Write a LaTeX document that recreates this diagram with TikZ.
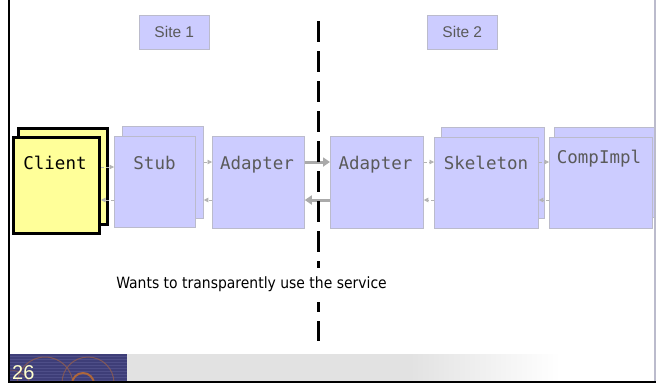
\documentclass[tikz,border=0pt]{standalone}
\usepackage{fontspec}
\usetikzlibrary{arrows.meta}
\setmainfont{Liberation Sans}
\newfontfamily\monof{DejaVu Sans Mono}
\newfontfamily\tahomaf[FakeStretch=0.9]{DejaVu Sans}
\definecolor{boxfill}{HTML}{CCCCFF}
\definecolor{boxline}{HTML}{BBBBCC}
\definecolor{clientfill}{HTML}{FFFF99}
\definecolor{lblgray}{HTML}{5A5A5A}
\definecolor{arrgray}{HTML}{AAAAAA}
\definecolor{smallarr}{HTML}{B4B4B4}
\definecolor{navy}{HTML}{3E3E78}
\definecolor{navystripe}{HTML}{4E4E88}
\definecolor{ringcol}{HTML}{9A6048}
\definecolor{footgray}{HTML}{E2E2E2}
\definecolor{numcol}{HTML}{FFFFCC}
\tikzset{
  bluebox/.style={draw=boxline, fill=boxfill, line width=0.8bp, inner sep=0pt, anchor=north west},
  clientbox/.style={draw=black, fill=clientfill, line width=3bp, inner sep=0pt, anchor=north west},
  sitebox/.style={draw=boxline, fill=boxfill, line width=0.6bp, inner sep=0pt, anchor=north west,
    minimum width=70bp, minimum height=34bp, text=lblgray, font=\fontsize{15.5bp}{18bp}\selectfont},
  lbl/.style={anchor=base, inner sep=0pt, text=lblgray, font=\monof\fontsize{17.5bp}{20bp}\selectfont},
  smallarrow/.style={draw=smallarr, line width=0.8bp, dash pattern=on 3bp off 2bp,
    -{Triangle[length=4.5bp,width=4.5bp]}},
  bigarrow/.style={draw=arrgray, line width=3bp, -{Triangle[length=7bp,width=9bp]}},
  divider/.style={draw=black, line width=3bp, dash pattern=on 21bp off 9bp},
}
\begin{document}
\begin{tikzpicture}[x=1bp, y=-1bp]
\useasboundingbox (0,0) rectangle (656,383);
\fill[white] (0,0) rectangle (656,383);

% site labels
\node[sitebox] (site1) at (139,15) {Site 1};
\node[sitebox] (site2) at (427,15) {Site 2};

% back boxes
\node[clientbox, minimum width=89bp, minimum height=96bp] (clientB) at (17,127) {};
\node[bluebox, minimum width=81bp, minimum height=92bp] (stubB) at (122,126) {};
\node[bluebox, minimum width=103bp, minimum height=91bp] (skelB) at (441,127) {};
\node[bluebox, minimum width=101bp, minimum height=90bp] (compB) at (554,127) {};

% front boxes
\node[clientbox, minimum width=86bp, minimum height=96bp] (clientF) at (12,136) {};
\node[bluebox, minimum width=81bp, minimum height=91bp] (stubF) at (114,136) {};
\node[bluebox, minimum width=92bp, minimum height=92bp] (adapt1) at (212,136) {};
\node[bluebox, minimum width=93bp, minimum height=92bp] (adapt2) at (330,136) {};
\node[bluebox, minimum width=104bp, minimum height=91bp] (skelF) at (434,137) {};
\node[bluebox, minimum width=103bp, minimum height=91bp] (compF) at (549,137) {};

% labels
\node[lbl, text=black] (tclient) at (55,169) {Client};
\node[lbl] (tstub) at (154.5,169) {Stub};
\node[lbl] (tad1) at (257,169) {Adapter};
\node[lbl] (tad2) at (375.5,169) {Adapter};
\node[lbl] (tskel) at (486,169) {Skeleton};
\node[lbl] (tcomp) at (599,163) {CompImpl};

% arrow rows
\coordinate (ya) at (0,167);
\coordinate (yt) at (0,162);
\coordinate (yb) at (0,200);

\draw[smallarrow] (clientF.east |- ya) -- (stubF.west |- ya);
\draw[smallarrow] (stubB.east |- yt) -- (adapt1.west |- yt);
\draw[smallarrow] (stubF.west |- yb) -- (clientF.east |- yb);
\draw[smallarrow] (adapt1.west |- yb) -- (stubB.east |- yb);
\draw[smallarrow] (adapt2.east |- yt) -- (skelF.west |- yt);
\draw[smallarrow] (skelF.west |- yb) -- (adapt2.east |- yb);
\draw[smallarrow] (skelF.east |- yt) -- (compF.west |- yt);
\draw[smallarrow] (compF.west |- yb) -- (skelF.east |- yb);

\draw[bigarrow] (adapt1.east |- yt) -- (adapt2.west |- yt);
\draw[bigarrow] (adapt2.west |- yb) -- (adapt1.east |- yb);

% dividing line
\coordinate (dtop) at (318,21);
\coordinate (dbot) at (318,341);
\draw[divider] (dtop) -- (dbot);

% caption
\node[anchor=base, fill=white, inner xsep=2bp, inner ysep=0pt, text height=20bp, text depth=14bp,
  font=\tahomaf\fontsize{15.5bp}{18bp}\selectfont] (caption) at (251.5,288)
  {Wants to transparently use the service};

% footer
\fill[footgray] (127,354) rectangle (410,381);
\shade[left color=footgray, right color=white] (410,354) rectangle (560,381);
\fill[navy] (9,354) rectangle (127,381);
\begin{scope}
  \clip (9,354) rectangle (127,381);
  \foreach \yy in {356,359,...,381} {\draw[navystripe, line width=1bp] (9,\yy) -- (127,\yy);}
  \draw[ringcol, line width=1bp, opacity=0.7] (45,385) circle (28);
  \draw[ringcol, line width=1bp, opacity=0.7] (88,383) circle (26);
  \draw[ringcol, line width=1bp, opacity=0.5] (10,392) circle (22);
  \draw[ringcol!80!orange, line width=2bp] (83,384) circle (11);
\end{scope}
\node[anchor=base west, inner sep=0pt, text=numcol, font=\fontsize{20bp}{24bp}\selectfont] (pagenum) at (12,379.5) {26};

% frame
\draw[black, line width=2.5bp] (9,0) -- (9,383);
\draw[black, line width=1.5bp] (9,382) -- (656,382);
\draw[boxline, line width=1.5bp] (655,0) -- (655,381);
\end{tikzpicture}
\end{document}
